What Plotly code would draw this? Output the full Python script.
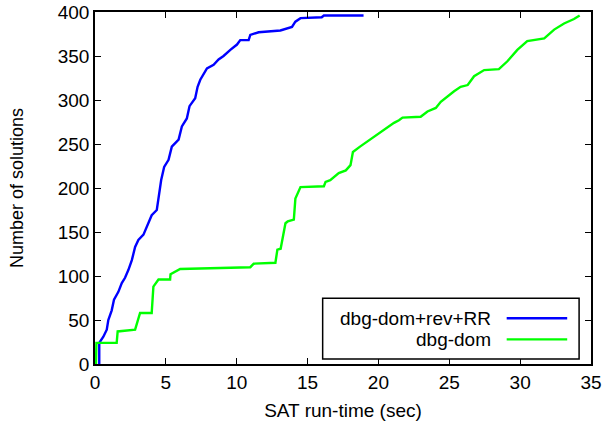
import plotly.graph_objects as go

# --- data ---
blue_name = "dbg-dom+rev+RR"
blue_t = [0.3, 0.3, 0.59, 0.83, 0.94, 1.18, 1.34, 1.65, 1.89, 2.12, 2.36, 2.6, 2.83, 3.06, 3.42,
          3.77, 4.0, 4.36, 4.48, 4.6, 4.67, 4.88, 5.19, 5.42, 5.9, 6.13, 6.48, 6.67, 7.07, 7.24,
          7.43, 7.9, 8.37, 8.72, 9.07, 9.55, 10.02, 10.25, 10.84, 10.96, 11.55, 13.08, 13.5,
          13.9, 14.14, 14.5, 16.0, 16.15, 18.95]
blue_n = [0, 24, 31, 39, 50, 61, 73, 82, 92, 98, 107, 118, 133, 141, 147,
          160, 169, 175, 187, 202, 209, 224, 232, 247, 255, 270, 279, 293, 302, 315,
          323, 336, 340, 346, 350, 357, 363, 368, 368, 374, 377, 379, 381,
          383, 389, 393, 394, 396, 396]

green_name = "dbg-dom"
green_t = [0.07, 0.1, 1.53, 1.6, 2.83, 2.95, 3.18, 4.0, 4.07, 4.12, 4.48, 5.3, 5.33, 6.01,
           10.96, 11.2, 12.73, 12.87, 13.1, 13.44, 13.6, 14.03, 14.14, 14.5, 16.15, 16.27,
           16.6, 17.2, 17.7, 18.03, 18.1, 18.2, 18.7, 19.4, 20.15, 21.1, 21.45, 21.7, 22.98,
           23.46, 24.05, 24.4, 25.34, 25.8, 26.3, 26.75, 27.46, 28.5, 29.1, 29.8, 30.5, 31.7,
           32.4, 33.1, 33.8, 34.2]
green_n = [0, 24, 24, 37, 39, 46, 58, 58, 78, 88, 96, 96, 102, 108,
           110, 114, 115, 130, 131, 160, 162, 164, 188, 201, 202, 207,
           209, 217, 220, 226, 232, 241, 247, 255, 263, 274, 277, 280, 281,
           287, 291, 298, 310, 315, 317, 327, 334, 335, 344, 357, 367, 370,
           380, 387, 392, 396]

x_ticks = [0, 5, 10, 15, 20, 25, 30, 35]
y_ticks = [0, 50, 100, 150, 200, 250, 300, 350, 400]

BLUE = "#0000ff"
GREEN = "#00ff00"
FONT = "Liberation Sans, Arial, Helvetica, sans-serif"
FS = 19

fig = go.Figure()
fig.add_trace(go.Scatter(x=blue_t, y=blue_n, mode="lines", name=blue_name,
                         line=dict(color=BLUE, width=2.4), showlegend=False))
fig.add_trace(go.Scatter(x=green_t, y=green_n, mode="lines", name=green_name,
                         line=dict(color=GREEN, width=2.4), showlegend=False))

axis_common = dict(showline=True, linecolor="black", linewidth=1.5, mirror="ticks",
                   ticks="inside", ticklen=6, tickwidth=1.3, tickcolor="black",
                   showgrid=False, zeroline=False, automargin=False,
                   tickfont=dict(family=FONT, size=FS, color="black"))

fig.update_xaxes(range=[0, 35], tickvals=x_ticks, ticktext=[str(v) for v in x_ticks],
                 title=dict(text="SAT run-time (sec)", font=dict(family=FONT, size=FS, color="black"),
                            standoff=12),
                 **axis_common)
fig.update_yaxes(range=[0, 400], tickvals=y_ticks, ticktext=[str(v) for v in y_ticks],
                 title=dict(text="Number of solutions", font=dict(family=FONT, size=18, color="black"),
                            standoff=29),
                 **axis_common)

# custom legend (gnuplot style: text right-aligned, sample on the right)
fig.add_shape(type="rect", xref="paper", yref="paper", x0=0.459, x1=0.976, y0=0.014, y1=0.187,
              line=dict(color="black", width=1.5), fillcolor="white", layer="above")
legend_items = [(blue_name, BLUE, 0.130), (green_name, GREEN, 0.070)]
for name, col, yy in legend_items:
    fig.add_annotation(xref="paper", yref="paper", x=0.803, y=yy, text=name, showarrow=False,
                       xanchor="right", yanchor="middle",
                       font=dict(family=FONT, size=FS, color="black"))
    fig.add_shape(type="line", xref="paper", yref="paper", x0=0.830, x1=0.952, y0=yy, y1=yy,
                  line=dict(color=col, width=2.4), layer="above")

fig.update_layout(width=605, height=428, margin=dict(l=95, r=14, t=12, b=64),
                  paper_bgcolor="white", plot_bgcolor="white",
                  font=dict(family=FONT, size=FS, color="black"))

fig.write_html("out.html")
